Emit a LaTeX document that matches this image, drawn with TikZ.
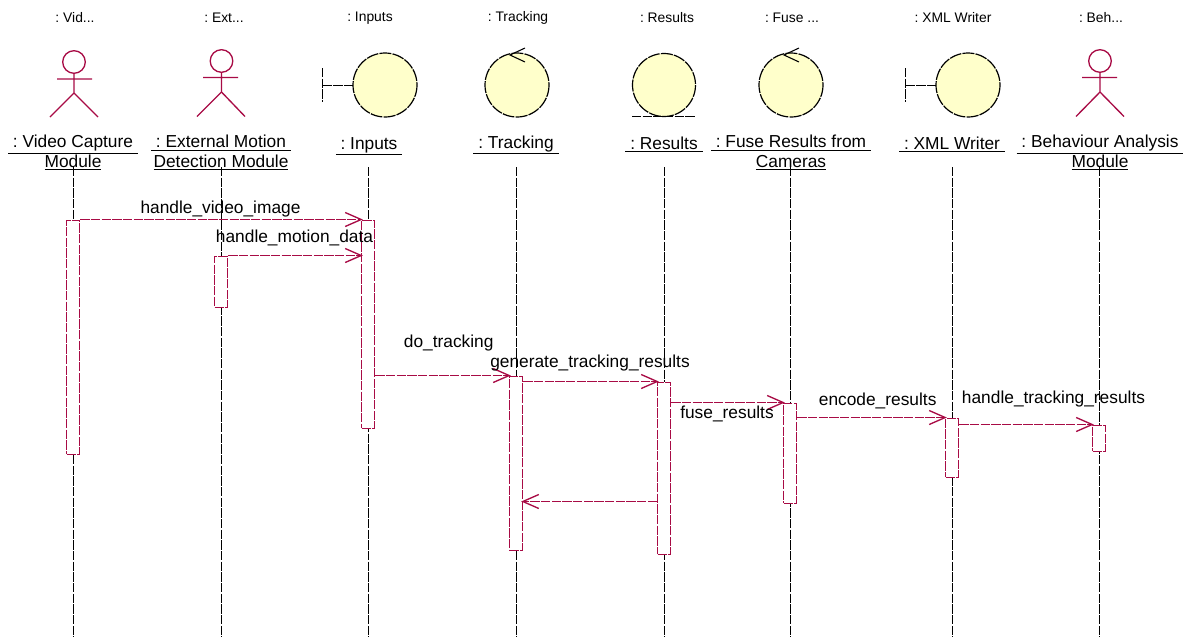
\documentclass[tikz,border=0pt]{standalone}
\usepackage{fontspec}
\setmainfont{Liberation Sans}
\usetikzlibrary{arrows.meta}
\definecolor{umlred}{HTML}{A80B45}
\definecolor{umlfill}{HTML}{FFFFCB}
\newcommand{\uln}[1]{\underline{\ #1\ }}
\frenchspacing
\tikzset{
  roughdash/.style={dash pattern=on 7pt off 1pt},
  lifeline/.style={black,line width=0.8pt,roughdash},
  bar/.style={draw=umlred,fill=white,line width=1pt,roughdash,minimum width=9.75pt,inner sep=0pt,anchor=north},
  msg/.style={umlred,line width=1pt,roughdash,shorten >=-1.5pt,-{Straight Barb[length=12pt,width=10.5pt,line width=1pt]}},
  actorline/.style={umlred,line width=1pt},
  glyph/.style={draw=black,fill=umlfill,line width=0.9pt,dash pattern=on 9pt off 0.9pt},
  glyphline/.style={black,line width=0.8pt,roughdash},
  toplabel/.style={font=\fontsize{10.4}{12}\selectfont,inner sep=0pt},
  objlabel/.style={font=\fontsize{13}{15}\selectfont,align=center,inner sep=0pt,anchor=base},
  msglabel/.style={text=black,font=\fontsize{13}{15}\selectfont,inner sep=0pt}
}
\begin{document}
\begin{tikzpicture}[x=0.75pt,y=-0.75pt]
  \useasboundingbox (0,0) rectangle (1186,637);

  % names along the top
  \node[toplabel] (vidtop) at (75,18) {: Vid...};
  \node[toplabel] (exttop) at (224,18) {: Ext...};
  \node[toplabel] (intop) at (370,18) {: Inputs};
  \node[toplabel] (tracktop) at (518,18) {: Tracking};
  \node[toplabel] (restop) at (667,18) {: Results};
  \node[toplabel] (fusetop) at (792,18) {: Fuse ...};
  \node[toplabel] (xmltop) at (953,18) {: XML Writer};
  \node[toplabel] (behtop) at (1101,18) {: Beh...};

  % actors
  \draw[actorline] (74,62) circle (11.3);
  \draw[actorline] (57,79) -- (92,79) (74,73.3) -- (74,93) (50,117) -- (74,93) -- (98,117);
  \draw[actorline] (221.5,61) circle (11.3);
  \draw[actorline] (203,77.5) -- (238,77.5) (221.5,72.3) -- (221.5,92) (197,116.5) -- (221.5,92) -- (245,116.5);
  \draw[actorline] (1100,61) circle (11.3);
  \draw[actorline] (1082,77.5) -- (1117,77.5) (1100,72.3) -- (1100,92) (1076,116.5) -- (1100,92) -- (1124,116.5);

  % boundary Inputs
  \draw[glyphline] (322.5,68) -- (322.5,102) (322.5,85.5) -- (353,85.5);
  \draw[glyph] (385,85) circle (32);
  % control Tracking
  \draw[glyph] (517,85) circle (32);
  \draw[glyphline,solid] (525,48) -- (510,55) -- (525,62);
  % entity Results
  \draw[glyph] (664,85) circle (31.5);
  \draw[glyphline] (632,116.5) -- (696,116.5);
  % control Fuse
  \draw[glyph] (791,85) circle (32);
  \draw[glyphline,solid] (799,48) -- (784,55) -- (799,62);
  % boundary XML Writer
  \draw[glyphline] (905.5,68) -- (905.5,102) (905.5,85.5) -- (936,85.5);
  \draw[glyph] (968,85) circle (32);

  % lifelines
  \coordinate (vidstart) at (73.5,167);   \coordinate (vidend) at (73.5,637);
  \coordinate (extstart) at (221.5,167);  \coordinate (extend) at (221.5,637);
  \coordinate (instart) at (368.5,167);   \coordinate (inend) at (368.5,637);
  \coordinate (trackstart) at (516.5,167);\coordinate (trackend) at (516.5,637);
  \coordinate (resstart) at (664.5,167);  \coordinate (resend) at (664.5,637);
  \coordinate (fusestart) at (790.5,167); \coordinate (fuseend) at (790.5,637);
  \coordinate (xmlstart) at (952.5,167);  \coordinate (xmlend) at (952.5,637);
  \coordinate (behstart) at (1099.5,167); \coordinate (behend) at (1099.5,637);
  \draw[lifeline] (vidstart) -- (vidend);
  \draw[lifeline] (extstart) -- (extend);
  \draw[lifeline] (instart) -- (inend);
  \draw[lifeline] (trackstart) -- (trackend);
  \draw[lifeline] (resstart) -- (resend);
  \draw[lifeline] (fusestart) -- (fuseend);
  \draw[lifeline] (xmlstart) -- (xmlend);
  \draw[lifeline] (behstart) -- (behend);

  % object names
  \node[objlabel] (vidname) at (73,167) {\uln{: Video Capture}\\[-0.6pt]\underline{Module}};
  \node[objlabel] (extname) at (221,167) {\uln{: External Motion}\\[-0.6pt]\underline{Detection Module}};
  \node[objlabel] (inname) at (369,149) {\uln{: Inputs}};
  \node[objlabel] (trackname) at (516,148) {\uln{: Tracking}};
  \node[objlabel] (resname) at (664,149) {\uln{: Results}};
  \node[objlabel] (fusename) at (791,167) {\uln{: Fuse Results from}\\[-0.6pt]\underline{Cameras}};
  \node[objlabel] (xmlname) at (952,149) {\uln{: XML Writer}};
  \node[objlabel] (behname) at (1100,167) {\uln{: Behaviour Analysis}\\[-0.6pt]\underline{Module}};

  % activation bars
  \node[bar,minimum height=175.5pt] (vidbar) at (73,219.5) {};
  \node[bar,minimum height=38.25pt] (extbar) at (221,255.5) {};
  \node[bar,minimum height=156pt] (inbar) at (368,219.5) {};
  \node[bar,minimum height=130.5pt] (trackbar) at (516,375.5) {};
  \node[bar,minimum height=129pt] (resbar) at (664,381.5) {};
  \node[bar,minimum height=75pt] (fusebar) at (790,402.5) {};
  \node[bar,minimum height=44.25pt] (xmlbar) at (952,417.5) {};
  \node[bar,minimum height=19.5pt] (behbar) at (1099,424.5) {};

  % messages
  \draw[msg] (vidbar.north east) -- (vidbar.north east -| inbar.north west)
    node[msglabel,midway,yshift=8pt] (videomsg) {handle\_video\_image};
  \draw[msg] (extbar.north east) -- (extbar.north east -| inbar.north west)
    node[msglabel,midway,yshift=13.5pt] (motionmsg) {handle\_motion\_data};
  \draw[msg] (inbar.east |- trackbar.north) -- (trackbar.north west)
    node[msglabel,midway,xshift=5pt,yshift=24pt] (trackmsg) {do\_tracking};
  \draw[msg] (trackbar.east |- resbar.north) -- (resbar.north west)
    node[msglabel,midway,yshift=13.5pt] (genmsg) {generate\_tracking\_results};
  \draw[msg] (resbar.east |- fusebar.north) -- (fusebar.north west)
    node[msglabel,midway,yshift=-8.5pt] (fusemsg) {fuse\_results};
  \draw[msg] (fusebar.east |- xmlbar.north) -- (xmlbar.north west)
    node[msglabel,midway,xshift=5pt,yshift=12.5pt] (encmsg) {encode\_results};
  \draw[msg] (xmlbar.east |- behbar.north) -- (behbar.north west)
    node[msglabel,midway,xshift=21pt,yshift=19pt] (behmsg) {handle\_tracking\_results};
  \coordinate (backy) at (0,501.5);
  \draw[msg] (resbar.west |- backy) -- (trackbar.east |- backy);
\end{tikzpicture}
\end{document}
